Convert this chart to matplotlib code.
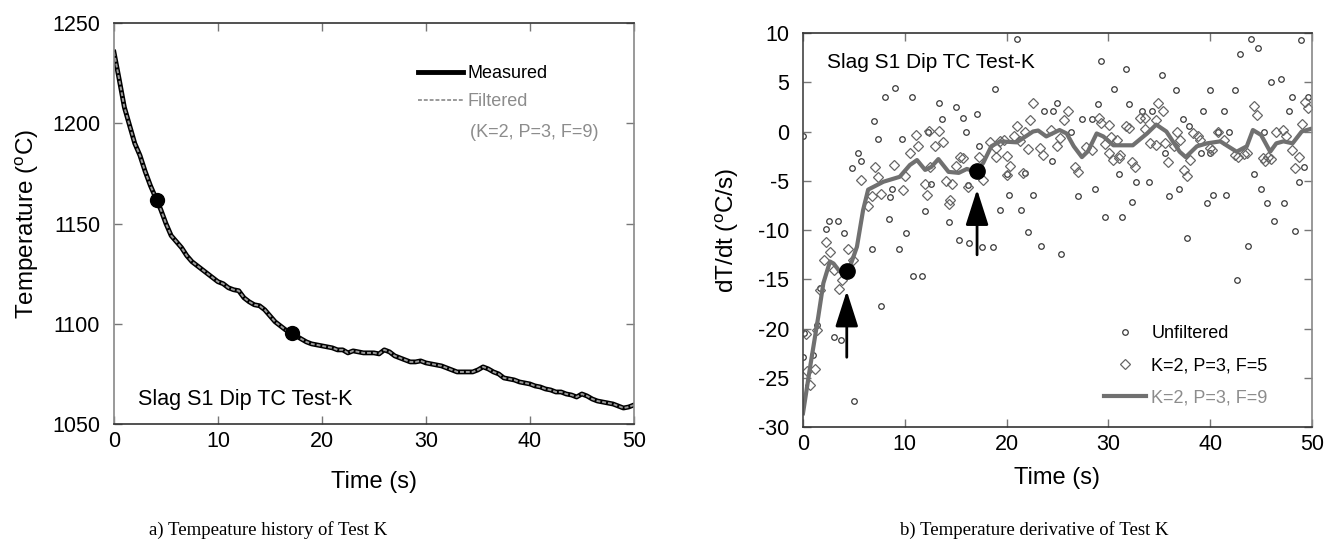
import numpy as np
import matplotlib.pyplot as plt

plt.rcParams['font.family'] = ['Liberation Sans', 'DejaVu Sans']
plt.rcParams['axes.unicode_minus'] = False

# ---- panel a: temperature history (read every 0.5 s) ----
time_a = np.arange(0, 50.01, 0.5)
temp_measured = [
    1235.5, 1222, 1208, 1199, 1190, 1184, 1176, 1169, 1163, 1157,
    1150, 1144, 1141, 1138, 1134, 1131, 1129, 1127, 1125, 1123,
    1121, 1120, 1118, 1117, 1116.5, 1113, 1111, 1109.5, 1109, 1107,
    1104, 1101, 1099, 1097, 1096, 1094, 1092.5, 1091, 1090, 1089.5,
    1089, 1088.5, 1088, 1087, 1087, 1085.5, 1086.5, 1086, 1085.5, 1085.5,
    1085.5, 1085, 1087, 1086, 1084, 1083, 1082, 1081, 1081, 1081.5,
    1080.5, 1080, 1079.5, 1079, 1078, 1077, 1076, 1076, 1076, 1076,
    1077, 1078.5, 1077.5, 1076, 1075, 1073, 1072.5, 1072, 1071, 1070.5,
    1070, 1069, 1068.5, 1067.5, 1067, 1066, 1066, 1065, 1064.5, 1063.5,
    1065, 1064, 1062.5, 1061.5, 1061, 1060.5, 1060, 1059, 1058, 1058.5,
    1059.5,
]
temp_filtered = temp_measured  # filtered curve lies on the measured one
mark_t_a = [4.1, 17.1]
mark_T_a = [1162, 1095.5]

# ---- panel b: temperature derivative ----
unf_t = [0.0, 0.0, 0.1, 1.0, 1.35, 1.7, 2.3, 2.6, 3.0, 3.4, 3.7, 4.0, 4.8, 5.0,
         5.4, 5.7, 6.75, 7.0, 7.4, 7.7, 8.05, 8.4, 8.5, 8.7, 9.0, 9.4, 9.7, 10.1,
         10.7, 10.8, 11.7, 12.0, 12.3, 12.6, 13.4, 13.7, 14.3, 15.0, 15.3, 15.7,
         16.0, 16.2, 16.3, 17.1, 17.3, 17.6, 18.7, 18.9, 19.35, 20.0, 20.2, 21.0,
         21.4, 21.8, 22.1, 22.6, 23.4, 23.7, 24.5, 24.6, 25.0, 25.3, 26.3, 27.0,
         27.4, 28.4, 28.7, 29.0, 29.3, 29.7, 30.6, 31.0, 31.3, 31.7, 32.0, 32.3,
         32.7, 33.3, 34.0, 34.3, 35.3, 35.6, 36.0, 36.6, 36.9, 37.3, 37.7, 37.9,
         39.1, 39.3, 39.7, 40.0, 40.0, 40.3, 40.8, 41.4, 41.6, 41.9, 42.4, 42.6,
         42.9, 43.7, 44.0, 44.3, 44.7, 45.0, 45.3, 45.6, 46.0, 46.3, 47.0, 47.3,
         47.7, 48.0, 48.3, 48.7, 48.9, 49.2, 49.6]
unf_v = [-0.5, -22.9, -20.5, -22.7, -19.6, -15.9, -9.9, -9.05, -20.9, -9.05, -21.2, -10.3, -3.7, -27.4,
         -2.2, -3.0, -11.9, 1.1, -0.8, -17.7, 3.5, -8.9, -6.6, -5.8, 4.4, -11.9, -0.8, -10.3,
         3.5, -14.7, -14.7, -8.1, 0.0, -5.3, 2.9, 1.3, -9.2, 2.5, -11.0, 1.4,
         0.0, -5.4, -11.3, 1.8, -1.5, -11.7, -11.7, 4.3, -8.0, -4.3, -6.4, 9.4,
         -8.0, -4.2, -10.2, -6.4, -11.6, 2.1, -3.0, 2.1, 2.9, -12.4, 0.0, -6.5,
         1.3, 1.3, -5.8, 2.8, 7.2, -8.7, 4.3, -4.3, -8.7, 6.3, 2.8, -7.2,
         -5.1, 2.1, -5.1, 2.1, 5.7, -2.15, -6.5, 4.2, -5.8, 1.3, -10.8, 0.6,
         -2.15, 2.1, -7.3, 4.2, -2.15, -6.4, 0.0, 2.1, -6.4, 0.0, 4.2, -15.1,
         7.9, -11.6, 9.4, -4.3, 8.5, -5.8, 0.0, -7.3, 5.0, -9.05, 5.3, -7.3,
         2.1, 3.5, -10.1, -5.1, 9.3, -3.6, 3.5]

f5_t = [0.3, 0.35, 0.7, 1.2, 1.35, 1.7, 2.1, 2.3, 2.7, 3.0, 3.5, 3.8, 4.45, 4.9,
        5.7, 6.4, 6.75, 7.1, 7.4, 7.7, 8.9, 9.8, 10.0, 10.5, 11.1, 11.3, 12.0, 12.2,
        12.4, 12.5, 13.0, 13.4, 13.8, 14.0, 14.3, 14.4, 14.6, 15.0, 15.4, 15.7, 16.2,
        17.3, 17.7, 18.4, 19.0, 19.0, 19.35, 19.7, 20.0, 20.0, 20.3, 20.7, 21.0, 21.3,
        21.6, 21.8, 22.1, 22.3, 22.6, 23.3, 23.6, 24.4, 25.0, 25.2, 25.6, 26.0, 26.7,
        27.0, 27.8, 28.4, 29.1, 29.3, 29.7, 30.1, 30.1, 30.3, 30.5, 30.8, 31.0, 31.1,
        31.7, 32.0, 32.3, 32.6, 33.1, 33.6, 33.6, 34.1, 34.7, 34.7, 34.9, 35.4, 35.6,
        35.9, 36.4, 36.7, 37.0, 37.4, 37.7, 38.0, 38.3, 38.8, 39.0, 40.0, 40.2, 40.8,
        41.4, 42.4, 42.7, 43.3, 43.6, 44.3, 44.6, 45.2, 45.4, 45.7, 46.0, 46.5, 47.2,
        47.5, 48.0, 48.3, 48.7, 49.0, 49.3, 49.6]
f5_v = [-20.6, -24.3, -25.7, -24.1, -20.2, -16.1, -13.0, -11.2, -12.2, -14.1, -16.0, -15.1, -11.9, -13.0,
        -4.9, -7.6, -6.5, -3.6, -4.6, -6.3, -3.4, -5.9, -4.5, -2.15, -0.35, -1.5, -5.3, -6.4,
        0.1, -3.6, -1.5, 0.1, -1.1, -5.0, -7.4, -7.0, -5.3, -3.5, -2.6, -2.7, -5.6,
        -2.6, -4.9, -1.1, -1.7, -2.6, -1.0, -0.9, -2.5, -4.4, -3.5, -0.45, 0.6, -1.0,
        -4.2, 0.0, -1.8, 1.2, 2.9, -1.7, -2.4, 0.2, -1.5, -0.7, 1.2, 2.1, -3.6,
        -4.1, -1.6, -1.9, 1.4, 0.9, -1.3, 0.7, -2.15, -0.6, -2.9, -0.9, -2.7, -2.4,
        0.55, 0.4, -3.1, -3.6, 1.4, 1.4, 0.3, -1.2, 1.2, -1.4, 2.9, 2.1, -1.2,
        -3.1, -1.5, 0.0, -0.9, -3.9, -4.5, -2.9, -0.2, -0.45, -0.9, -1.7, -1.9, 0.0,
        -0.9, -2.4, -2.6, -2.3, -2.15, 2.6, 1.7, -2.7, -3.0, -2.6, -2.8, 0.0, 0.15,
        -0.45, -1.9, -3.7, -2.6, 0.8, 3.0, 2.35]

f9_t = [0, 0.7, 1.5, 2.0, 2.65, 3.0, 3.6, 4.45, 5.3, 5.9, 6.4, 7.9, 9.5, 10.5, 11.2,
        12.0, 12.6, 13.3, 14.3, 15.3, 16.1, 17.0, 17.7, 18.5, 19.35, 21.0, 22.6, 23.1,
        23.9, 25.2, 25.9, 26.6, 27.4, 28.0, 28.85, 29.5, 30.5, 32.4, 33.8, 34.7, 35.7,
        37.0, 37.6, 38.7, 39.7, 41.0, 41.6, 42.6, 43.6, 44.2, 45.0, 45.9, 46.5, 47.2,
        48.1, 49.0, 50.0]
f9_v = [-28.6, -23.9, -18.8, -15.4, -13.2, -13.4, -14.2, -14.2, -11.7, -8.0, -5.9, -5.1, -4.6, -3.4, -2.9,
        -3.9, -3.6, -2.8, -4.1, -4.2, -3.8, -4.1, -3.2, -1.5, -1.0, -1.1, 0.0, 0.1,
        -0.5, 0.15, -0.2, -1.5, -2.6, -2.0, -0.2, -0.5, -1.4, -1.4, -0.2, 0.7, 0.0,
        -2.05, -2.6, -1.5, -1.2, -1.0, -1.4, -2.05, -1.5, 0.15, -0.35, -2.05, -1.2, -1.0,
        -1.2, 0.0, 0.3]
mark_t_b = [4.3, 17.1]
mark_v_b = [-14.2, -4.0]

fig = plt.figure(figsize=(13.33, 5.5), dpi=100)
ax1 = fig.add_axes([0.0855, 0.229, 0.390, 0.729])
ax2 = fig.add_axes([0.6024, 0.2236, 0.3818, 0.7164])


def style_axes(ax):
    ax.tick_params(direction='in', top=True, right=True, length=6, width=1,
                   color='#777777', labelsize=15.5)
    ax.tick_params(axis='y', pad=10)
    ax.tick_params(axis='x', pad=5)
    for side in ['top', 'bottom']:
        ax.spines[side].set_color('#333333')
        ax.spines[side].set_linewidth(1.2)
    for side in ['left', 'right']:
        ax.spines[side].set_color('#888888')
        ax.spines[side].set_linewidth(1.2)


# panel a
ax1.plot(time_a, temp_measured, color='black', lw=3.5, label='Measured')
ax1.plot(time_a, temp_filtered, color='#9a9a9a', lw=1.4, ls=(0, (2, 1)),
         label='Filtered')
ax1.plot(mark_t_a, mark_T_a, 'o', color='black', ms=10)
ax1.set_xlim(0, 50)
ax1.set_ylim(1050, 1250)
ax1.set_xticks([0, 10, 20, 30, 40, 50])
ax1.set_yticks([1050, 1100, 1150, 1200, 1250])
ax1.set_xlabel('Time (s)', fontsize=17, labelpad=14)
ax1.set_ylabel(r'Temperature ($^\mathregular{o}$C)', fontsize=17.5, labelpad=8)
style_axes(ax1)
leg1 = ax1.legend(loc='upper left', bbox_to_anchor=(0.553, 0.935), frameon=False,
                  fontsize=13, handlelength=2.5, handletextpad=0.25,
                  labelspacing=0.6)
leg1.get_texts()[1].set_color('#8c8c8c')
ax1.text(0.685, 0.728, '(K=2, P=3, F=9)', transform=ax1.transAxes,
         fontsize=13, color='#8c8c8c', va='center')
ax1.text(0.046, 0.062, 'Slag S1 Dip TC Test-K', transform=ax1.transAxes,
         fontsize=15.5, va='center')

# panel b
ax2.plot(unf_t, unf_v, 'o', ms=4, mfc='none', mec='#3a3a3a', mew=0.9,
         label='Unfiltered')
ax2.plot(f5_t, f5_v, 'D', ms=5.5, mfc='none', mec='#666666', mew=0.9,
         label='K=2, P=3, F=5')
ax2.plot(f9_t, f9_v, color='#707070', lw=3, label='K=2, P=3, F=9')
ax2.plot(mark_t_b, mark_v_b, 'o', color='black', ms=11, zorder=5)
ax2.annotate('', xy=(4.3, -15.9), xytext=(4.3, -23.2),
             arrowprops=dict(arrowstyle='-|>,head_length=1.0,head_width=0.32',
                             color='black', lw=2, mutation_scale=22))
ax2.annotate('', xy=(17.1, -5.6), xytext=(17.1, -12.8),
             arrowprops=dict(arrowstyle='-|>,head_length=1.0,head_width=0.32',
                             color='black', lw=2, mutation_scale=22))
ax2.set_xlim(0, 50)
ax2.set_ylim(-30, 10)
ax2.set_xticks([0, 10, 20, 30, 40, 50])
ax2.set_yticks(np.arange(-30, 11, 5))
ax2.set_xlabel('Time (s)', fontsize=17, labelpad=9)
ax2.set_ylabel(r'dT/dt ($^\mathregular{o}$C/s)', fontsize=17.5, labelpad=12)
style_axes(ax2)
ax2.spines['left'].set_color('#444444')
leg2 = ax2.legend(loc='upper left', bbox_to_anchor=(0.56, 0.30), frameon=False,
                  fontsize=13, handlelength=2.3, handletextpad=0.3,
                  labelspacing=0.85)
leg2.get_texts()[2].set_color('#8c8c8c')
ax2.text(0.048, 0.925, 'Slag S1 Dip TC Test-K', transform=ax2.transAxes,
         fontsize=15, va='center')

# captions
fig.text(0.201, 0.037, 'a) Tempeature history of Test K', ha='center',
         va='center', fontsize=13.5, family='Liberation Serif')
fig.text(0.776, 0.037, 'b) Temperature derivative of Test K', ha='center',
         va='center', fontsize=13.5, family='Liberation Serif')

fig.savefig('out.png', dpi=100)
